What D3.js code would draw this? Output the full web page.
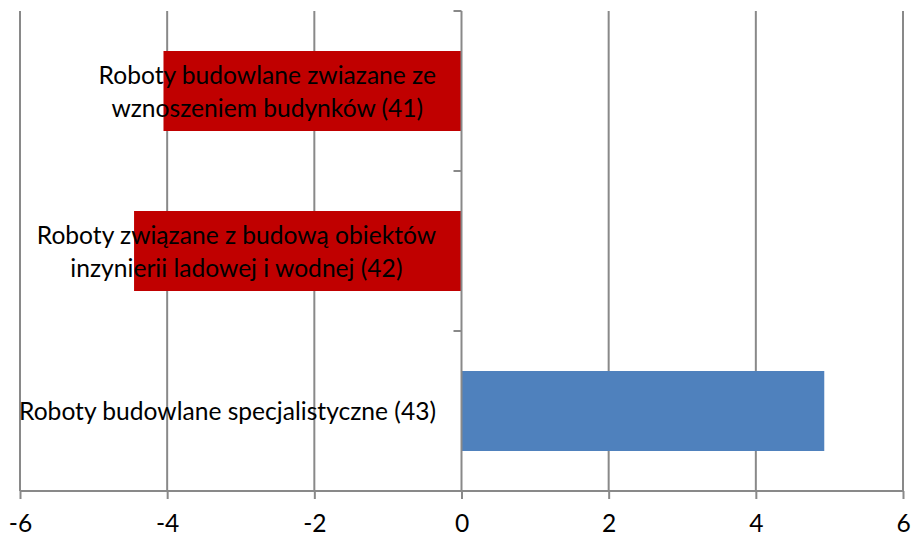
<!DOCTYPE html>
<html>
<head>
<meta charset="utf-8">
<script src="https://cdn.jsdelivr.net/npm/d3@7"></script>
<style>
  body { margin: 0; background: #fff; }
  svg { display: block; }
  text { font-family: Lato, "Noto Sans", sans-serif; fill: #000; }
</style>
</head>
<body>
<svg width="913" height="538"></svg>
<script>
const categories = [
  ["Roboty budowlane zwiazane ze", "wznoszeniem budynków (41)"],
  ["Roboty związane z budową obiektów", "inzynierii ladowej i wodnej (42)"],
  ["Roboty budowlane specjalistyczne (43)"]
];
const values = [-4.05, -4.45, 4.93];
const xTicks = [-6, -4, -2, 0, 2, 4, 6];

const plotLeft = 20, plotRight = 903, plotTop = 11, plotBottom = 491;
const fontSize = 24.6;

const svg = d3.select("svg");

const x = d3.scaleLinear().domain([-6, 6]).range([plotLeft, plotRight]);
const y = d3.scaleBand()
  .domain(d3.range(categories.length))
  .range([plotTop, plotBottom])
  .paddingInner(0.5)
  .paddingOuter(0.25);

const gridColor = "#898989";

// vertical gridlines
svg.append("g")
  .selectAll("line")
  .data(xTicks.filter(d => d !== 0))
  .enter()
  .append("line")
  .attr("x1", d => x(d))
  .attr("x2", d => x(d))
  .attr("y1", plotTop)
  .attr("y2", plotBottom)
  .attr("stroke", gridColor)
  .attr("stroke-width", 2);

// bars
svg.append("g")
  .selectAll("rect")
  .data(values)
  .enter()
  .append("rect")
  .attr("x", d => x(Math.min(0, d)))
  .attr("width", d => Math.abs(x(d) - x(0)))
  .attr("y", (d, i) => y(i))
  .attr("height", y.bandwidth())
  .attr("fill", d => d < 0 ? "#C00000" : "#4F81BD");

// bottom axis
const xAxis = d3.axisBottom(x).tickValues(xTicks).tickSize(8).tickPadding(16);
const gx = svg.append("g")
  .attr("transform", `translate(0,${plotBottom})`)
  .call(xAxis);
gx.select(".domain").attr("stroke", gridColor).attr("stroke-width", 2)
  .attr("d", `M${plotLeft},0H${plotRight}`);
gx.selectAll(".tick line").attr("stroke", gridColor).attr("stroke-width", 2);
gx.selectAll(".tick text")
  .style("font-size", fontSize + "px")
  .style("font-family", "Lato, 'Noto Sans', sans-serif")
  .attr("fill", "#000")
  .text(d => d < 0 ? "-" + Math.abs(d) : d);

// vertical axis at zero with ticks at band boundaries
const bounds = d3.range(categories.length + 1)
  .map(i => plotTop + i * (plotBottom - plotTop) / categories.length);
const gy = svg.append("g");
gy.append("line")
  .attr("x1", x(0)).attr("x2", x(0))
  .attr("y1", plotTop).attr("y2", plotBottom)
  .attr("stroke", gridColor).attr("stroke-width", 2);
gy.selectAll(".ytick")
  .data(bounds)
  .enter()
  .append("line")
  .attr("class", "ytick")
  .attr("x1", x(0) - 8).attr("x2", x(0))
  .attr("y1", d => d).attr("y2", d => d)
  .attr("stroke", gridColor).attr("stroke-width", 2);

// category labels: block right-aligned, lines centered inside block
const labelRight = 436;
const lineH = 33;
categories.forEach((lines, i) => {
  const g = svg.append("g");
  const cy = y(i) + y.bandwidth() / 2;
  const texts = lines.map((ln, j) => g.append("text")
    .attr("text-anchor", "middle")
    .style("font-size", fontSize + "px")
    .attr("y", cy + 9 + (j - (lines.length - 1) / 2) * lineH)
    .text(ln));
  const maxW = d3.max(texts, t => t.node().getComputedTextLength());
  texts.forEach(t => t.attr("x", labelRight - maxW / 2));
});
</script>
</body>
</html>
